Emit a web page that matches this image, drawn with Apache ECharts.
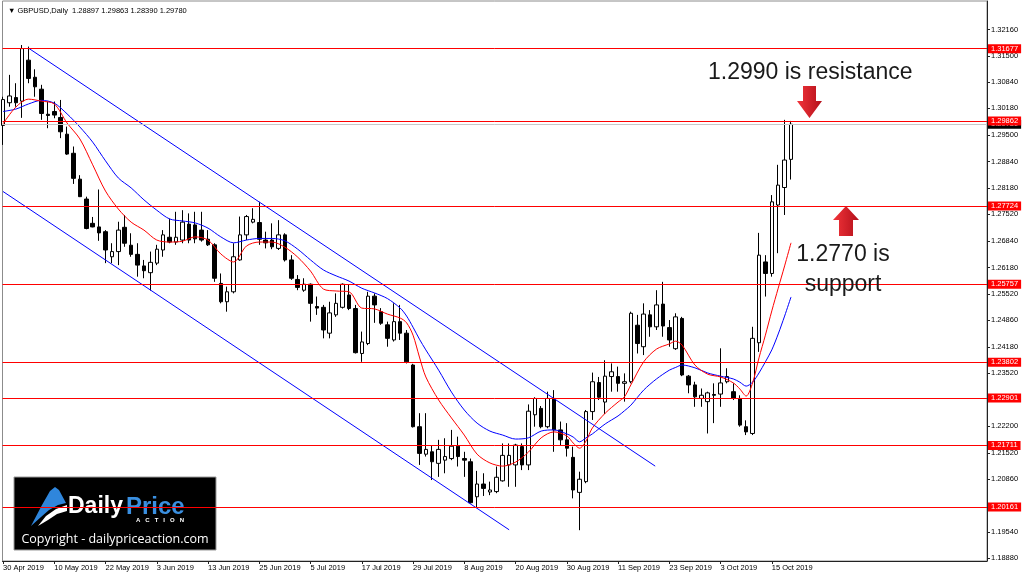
<!DOCTYPE html>
<html>
<head>
<meta charset="utf-8">
<title>GBPUSD Daily</title>
<script src="https://cdn.jsdelivr.net/npm/echarts@6.0.0/dist/echarts.min.js"></script>
<style>
  html, body { margin: 0; padding: 0; background: #fff; }
  #main { width: 1024px; height: 577px; }
</style>
</head>
<body>
<div id="main"></div>
<script>
// bar 0 = 30 Apr 2019, one bar per weekday, bar 123 = 18 Oct 2019
var labelStep = 8;
var dateLabels = ['30 Apr 2019', '10 May 2019', '22 May 2019', '3 Jun 2019', '13 Jun 2019', '25 Jun 2019',
  '5 Jul 2019', '17 Jul 2019', '29 Jul 2019', '8 Aug 2019', '20 Aug 2019', '30 Aug 2019',
  '11 Sep 2019', '23 Sep 2019', '3 Oct 2019', '15 Oct 2019'];

var opens = [1.2975, 1.3032, 1.3045, 1.3036, 1.3139, 1.3096, 1.3066, 1.3003, 1.3010, 1.2995,
  1.2953, 1.2905, 1.2840, 1.2790, 1.2729, 1.2720, 1.2708, 1.2645, 1.2658, 1.2719,
  1.2674, 1.2651, 1.2622, 1.2605, 1.2629, 1.2662, 1.2694, 1.2682, 1.2687, 1.2727,
  1.2725, 1.2712, 1.2689, 1.2675, 1.2578, 1.2532, 1.2557, 1.2637, 1.2700, 1.2732,
  1.2731, 1.2687, 1.2687, 1.2666, 1.2700, 1.2637, 1.2588, 1.2561, 1.2576, 1.2520,
  1.2518, 1.2453, 1.2499, 1.2518, 1.2549, 1.2515, 1.2402, 1.2427, 1.2546, 1.2507,
  1.2474, 1.2436, 1.2482, 1.2453, 1.2373, 1.2218, 1.2149, 1.2155, 1.2126, 1.2134,
  1.2138, 1.2169, 1.2138, 1.2130, 1.2042, 1.2074, 1.2054, 1.2055, 1.2082, 1.2122,
  1.2122, 1.2168, 1.2122, 1.2248, 1.2264, 1.2218, 1.2289, 1.2210, 1.2185, 1.2141,
  1.2053, 1.2080, 1.2256, 1.2329, 1.2280, 1.2344, 1.2344, 1.2327, 1.2331, 1.2473,
  1.2419, 1.2499, 1.2469, 1.2526, 1.2467, 1.2414, 1.2490, 1.2345, 1.2323, 1.2289,
  1.2281, 1.2299, 1.2300, 1.2331, 1.2306, 1.2289, 1.2218, 1.2201, 1.2429, 1.2632,
  1.2603, 1.2775, 1.2819, 1.28897];
var highs = [1.3047, 1.3102, 1.3081, 1.3177, 1.3173, 1.3116, 1.3077, 1.3035, 1.3035, 1.3039,
  1.2972, 1.2922, 1.2850, 1.2796, 1.2745, 1.2814, 1.2712, 1.2679, 1.2733, 1.2750,
  1.2704, 1.2679, 1.2637, 1.2658, 1.2675, 1.2712, 1.2741, 1.2758, 1.2762, 1.2754,
  1.2758, 1.2758, 1.2712, 1.2679, 1.2603, 1.2570, 1.2679, 1.2746, 1.2750, 1.2767,
  1.2783, 1.2708, 1.2729, 1.2737, 1.2704, 1.2649, 1.2599, 1.2591, 1.2578, 1.2545,
  1.2524, 1.2532, 1.2553, 1.2578, 1.2576, 1.2524, 1.2457, 1.2557, 1.2553, 1.2516,
  1.2482, 1.2528, 1.2524, 1.2461, 1.2376, 1.2252, 1.2252, 1.2172, 1.2185, 1.2189,
  1.2210, 1.2193, 1.2155, 1.2138, 1.2107, 1.2101, 1.2080, 1.2118, 1.2176, 1.2176,
  1.2175, 1.2176, 1.2274, 1.2292, 1.2270, 1.2306, 1.2310, 1.2231, 1.2227, 1.2168,
  1.2105, 1.2260, 1.2354, 1.2343, 1.2385, 1.2377, 1.2369, 1.2352, 1.2507, 1.2499,
  1.2528, 1.2511, 1.2561, 1.2582, 1.2486, 1.2503, 1.2494, 1.2348, 1.2331, 1.2314,
  1.2306, 1.2327, 1.2415, 1.2365, 1.2327, 1.2297, 1.2234, 1.2469, 1.2705, 1.2649,
  1.2800, 1.2876, 1.2989, 1.29863];
var lows = [1.2926, 1.3022, 1.3022, 1.2994, 1.3081, 1.3047, 1.2989, 1.2968, 1.2993, 1.2943,
  1.2901, 1.2828, 1.2795, 1.2714, 1.2719, 1.2685, 1.2629, 1.2629, 1.2624, 1.2670,
  1.2645, 1.2595, 1.2591, 1.2560, 1.2624, 1.2645, 1.2679, 1.2675, 1.2679, 1.2679,
  1.2679, 1.2683, 1.2672, 1.2582, 1.2528, 1.2507, 1.2553, 1.2635, 1.2687, 1.2729,
  1.2675, 1.2666, 1.2664, 1.2662, 1.2633, 1.2587, 1.2561, 1.2557, 1.2482, 1.2499,
  1.2440, 1.2440, 1.2494, 1.2515, 1.2511, 1.2402, 1.2381, 1.2423, 1.2479, 1.2474,
  1.2419, 1.2432, 1.2436, 1.2377, 1.2216, 1.2122, 1.2143, 1.2084, 1.2092, 1.2101,
  1.2134, 1.2118, 1.2092, 1.2025, 1.2016, 1.2044, 1.2046, 1.2051, 1.2080, 1.2067,
  1.2067, 1.2109, 1.2109, 1.2218, 1.2214, 1.2214, 1.2155, 1.2172, 1.2143, 1.2038,
  1.1958, 1.2076, 1.2235, 1.2285, 1.2250, 1.2306, 1.2306, 1.2281, 1.2327, 1.2402,
  1.2398, 1.2444, 1.2461, 1.2444, 1.2419, 1.2411, 1.2345, 1.2302, 1.2268, 1.2268,
  1.2201, 1.2227, 1.2268, 1.2327, 1.2285, 1.2218, 1.2197, 1.2197, 1.2406, 1.2545,
  1.2595, 1.2654, 1.2750, 1.28390];
var closes = [1.3040, 1.3049, 1.3032, 1.3168, 1.3093, 1.3072, 1.3005, 1.3000, 1.3001, 1.2959,
  1.2903, 1.2842, 1.2796, 1.2716, 1.2720, 1.2705, 1.2662, 1.2658, 1.2712, 1.2679,
  1.2651, 1.2624, 1.2610, 1.2631, 1.2664, 1.2700, 1.2682, 1.2694, 1.2732, 1.2687,
  1.2690, 1.2687, 1.2675, 1.2591, 1.2532, 1.2557, 1.2645, 1.2700, 1.2746, 1.2739,
  1.2689, 1.2680, 1.2670, 1.2700, 1.2637, 1.2591, 1.2568, 1.2576, 1.2528, 1.2516,
  1.2461, 1.2504, 1.2528, 1.2576, 1.2515, 1.2404, 1.2431, 1.2546, 1.2524, 1.2478,
  1.2440, 1.2482, 1.2453, 1.2381, 1.2218, 1.2151, 1.2161, 1.2130, 1.2161, 1.2143,
  1.2169, 1.2143, 1.2134, 1.2027, 1.2074, 1.2063, 1.2059, 1.2091, 1.2146, 1.2146,
  1.2172, 1.2122, 1.2257, 1.2289, 1.2218, 1.2289, 1.2210, 1.2185, 1.2164, 1.2059,
  1.2086, 1.2256, 1.2331, 1.2292, 1.2345, 1.2356, 1.2327, 1.2331, 1.2503, 1.2427,
  1.2501, 1.2469, 1.2524, 1.2471, 1.2436, 1.2494, 1.2348, 1.2323, 1.2293, 1.2297,
  1.2303, 1.2297, 1.2328, 1.2344, 1.2289, 1.2222, 1.2205, 1.2440, 1.2649, 1.2603,
  1.2783, 1.2825, 1.2888, 1.29780];

// moving averages at these bars
var maBars = [0, 2, 4, 6, 8, 10, 12, 14, 16, 18, 20, 22, 24, 26, 28, 30, 32, 34, 36, 38,
  40, 42, 44, 46, 48, 50, 52, 54, 56, 58, 60, 62, 63, 64, 65, 66, 68, 70, 72, 74,
  76, 78, 80, 82, 84, 86, 88, 89, 90, 91, 92, 94, 96, 97, 98, 100, 102, 104, 105, 106,
  108, 110, 112, 114, 115, 116, 117, 118, 119, 120, 121, 122, 123];
var maRed = [1.2979, 1.3021, 1.3041, 1.3036, 1.3029, 1.2981, 1.2941, 1.2876, 1.2810, 1.2765,
  1.2732, 1.2712, 1.2687, 1.2682, 1.2684, 1.2695, 1.2687, 1.2652, 1.2632, 1.2672,
  1.2682, 1.2682, 1.2669, 1.2644, 1.2609, 1.2564, 1.2559, 1.2557, 1.2516, 1.2514,
  1.2501, 1.2491, 1.2479, 1.2448, 1.2393, 1.2343, 1.2285, 1.2240, 1.2197, 1.2149,
  1.2127, 1.2119, 1.2129, 1.2154, 1.2190, 1.2205, 1.2195, 1.2177, 1.2164, 1.2182,
  1.2215, 1.2252, 1.2280, 1.2293, 1.2323, 1.2381, 1.2413, 1.2426, 1.2433, 1.2423,
  1.2373, 1.2350, 1.2343, 1.2328, 1.2313, 1.2295, 1.2328, 1.2391, 1.2448, 1.2509,
  1.2566, 1.2622, 1.2680];
var maBlue = [1.3010, 1.3016, 1.3029, 1.3038, 1.3031, 1.3004, 1.2971, 1.2933, 1.2886, 1.2843,
  1.2818, 1.2788, 1.2762, 1.2740, 1.2735, 1.2730, 1.2717, 1.2695, 1.2680, 1.2687,
  1.2691, 1.2691, 1.2685, 1.2664, 1.2637, 1.2612, 1.2597, 1.2584, 1.2566, 1.2554,
  1.2540, 1.2516, 1.2496, 1.2468, 1.2438, 1.2411, 1.2360, 1.2305, 1.2260, 1.2227,
  1.2207, 1.2197, 1.2187, 1.2190, 1.2207, 1.2210, 1.2200, 1.2192, 1.2180, 1.2190,
  1.2200, 1.2225, 1.2245, 1.2258, 1.2272, 1.2310, 1.2338, 1.2360, 1.2367, 1.2373,
  1.2366, 1.2353, 1.2345, 1.2338, 1.2330, 1.2320, 1.2330, 1.2353, 1.2381, 1.2411,
  1.2451, 1.2496, 1.2544];

// trend channel: [bar, price] end points
var channelUpper = [[4, 1.3169], [101.8, 1.2119]];
var channelLower = [[0, 1.2809], [79, 1.1959]];

var levels = [1.31677, 1.29862, 1.27724, 1.25757, 1.23802, 1.22901, 1.21711, 1.20161];
var bidPrice = 1.29780;
var priceTicks = [1.32160, 1.31500, 1.30840, 1.30180, 1.29500, 1.28840, 1.28180, 1.27520,
  1.26840, 1.26180, 1.25520, 1.24860, 1.24180, 1.23520, 1.22860, 1.22200, 1.21520,
  1.20860, 1.20200, 1.19540, 1.18880];

var FONT = "'Liberation Sans', Arial, sans-serif";

var candles = [];
for (var i = 0; i < opens.length; i++) {
  candles.push([i, opens[i], closes[i], lows[i], highs[i]]);
}
var tickBars = dateLabels.map(function (d, k) { return k * labelStep; });
function pairs(xs, ys) {
  return xs.map(function (x, k) { return [x, ys[k]]; });
}
function priceLabel(bg) {
  return {
    show: true, position: 'end', distance: 1,
    color: '#fff', backgroundColor: bg, padding: [1, 3, 0, 3],
    fontSize: 7.5, lineHeight: 8, fontFamily: FONT,
    formatter: function (p) { return Number(p.value).toFixed(5); }
  };
}

var myChart = echarts.init(document.getElementById('main'));
var option = {
  animation: false,
  backgroundColor: '#ffffff',
  title: {
    text: '\u25BC GBPUSD,Daily  1.28897 1.29863 1.28390 1.29780',
    left: 3,
    top: 2,
    textStyle: { fontSize: 7.5, fontWeight: 'normal', color: '#000', fontFamily: FONT }
  },
  grid: {
    left: 2, right: 37, top: 1, bottom: 16,
    show: true, borderColor: '#8c8c8c', borderWidth: 1, backgroundColor: '#fff'
  },
  xAxis: {
    type: 'value',
    min: -0.078,
    max: 153.59,
    splitLine: { show: false },
    axisLine: { show: true, onZero: false, lineStyle: { color: '#222', width: 1 } },
    axisTick: { show: true, customValues: tickBars, length: 3, lineStyle: { color: '#222' } },
    axisLabel: {
      customValues: tickBars,
      align: 'left',
      margin: 3,
      fontSize: 7.5,
      color: '#000',
      fontFamily: FONT,
      formatter: function (v) { return dateLabels[Math.round(v / labelStep)]; }
    }
  },
  yAxis: {
    type: 'value',
    position: 'right',
    min: 1.18806,
    max: 1.32876,
    splitLine: { show: false },
    axisLine: { show: true, onZero: false, lineStyle: { color: '#222', width: 1 } },
    axisTick: { show: true, customValues: priceTicks, length: 3, lineStyle: { color: '#222' } },
    axisLabel: {
      customValues: priceTicks,
      margin: 4,
      fontSize: 7.5,
      color: '#000',
      fontFamily: FONT,
      formatter: function (v) { return v.toFixed(5); }
    }
  },
  series: [
    {
      // current bid line
      type: 'line',
      z: 1,
      data: [[0, bidPrice]],
      showSymbol: false,
      lineStyle: { opacity: 0 },
      silent: true,
      markLine: {
        silent: true,
        precision: 5,
        symbol: ['none', 'none'],
        lineStyle: { color: '#c8c8c8', width: 1, type: 'solid' },
        label: priceLabel('#000'),
        data: [{ yAxis: bidPrice }]
      }
    },
    {
      type: 'line',
      data: pairs(maBars, maBlue),
      smooth: 0.3,
      showSymbol: false,
      silent: true,
      lineStyle: { color: '#0000ff', width: 1 }
    },
    {
      type: 'line',
      data: pairs(maBars, maRed),
      smooth: 0.3,
      showSymbol: false,
      silent: true,
      lineStyle: { color: '#ff0000', width: 1 }
    },
    {
      type: 'line',
      data: channelUpper,
      showSymbol: false,
      silent: true,
      lineStyle: { color: '#0000ff', width: 1 }
    },
    {
      type: 'line',
      data: channelLower,
      showSymbol: false,
      silent: true,
      lineStyle: { color: '#0000ff', width: 1 }
    },
    {
      type: 'candlestick',
      data: candles,
      encode: { x: 0, y: [1, 2, 3, 4] },
      barWidth: 4,
      silent: true,
      itemStyle: {
        color: '#ffffff', color0: '#000000',
        borderColor: '#000000', borderColor0: '#000000', borderColorDoji: '#000000',
        borderWidth: 1
      },
      markLine: {
        silent: true,
        precision: 5,
        symbol: ['none', 'none'],
        lineStyle: { color: '#ff0000', width: 1, type: 'solid' },
        label: priceLabel('#ff0000'),
        data: levels.map(function (v) { return { yAxis: v }; })
      }
    }
  ],
  graphic: [
    {
      type: 'text', z: 100,
      style: { x: 708, y: 73, text: '1.2990 is resistance', font: '23px ' + FONT, fill: '#1a1a1a', verticalAlign: 'middle' }
    },
    {
      type: 'text', z: 100,
      style: { x: 843, y: 255, text: '1.2770 is', font: '23px ' + FONT, fill: '#1a1a1a', align: 'center', verticalAlign: 'middle' }
    },
    {
      type: 'text', z: 100,
      style: { x: 843, y: 285, text: 'support', font: '23px ' + FONT, fill: '#1a1a1a', align: 'center', verticalAlign: 'middle' }
    },
    {
      // down arrow above resistance
      type: 'polygon', z: 100,
      shape: { points: [[803, 86], [816, 86], [816, 101], [822, 101], [809.5, 118], [797, 101], [803, 101]] },
      style: {
        fill: { type: 'linear', x: 0, y: 0, x2: 1, y2: 0, colorStops: [{ offset: 0, color: '#f2343a' }, { offset: 1, color: '#b3101a' }] }
      }
    },
    {
      // up arrow under support
      type: 'polygon', z: 100,
      shape: { points: [[846, 206], [859, 220], [853, 220], [853, 236], [839, 236], [839, 220], [833, 220]] },
      style: {
        fill: { type: 'linear', x: 0, y: 0, x2: 1, y2: 0, colorStops: [{ offset: 0, color: '#f2343a' }, { offset: 1, color: '#b3101a' }] }
      }
    },
    {
      // logo box
      type: 'group', z: 100,
      children: [
        { type: 'rect', shape: { x: 14, y: 477, width: 202, height: 73 }, style: { fill: '#000', stroke: '#9a9a9a', lineWidth: 1 } },
        { type: 'polygon', shape: { points: [[31, 526], [42, 505], [50, 491], [55, 487], [59, 490], [66, 503], [58, 505], [49, 510], [41, 517]] }, style: { fill: '#2f86dc' } },
        { type: 'polygon', shape: { points: [[38, 526], [46, 516], [56, 509], [67, 505], [67, 511], [57, 514], [48, 520]] }, style: { fill: '#ffffff' } },
        { type: 'text', style: { x: 68, y: 507, text: 'Daily', font: 'bold 23px ' + FONT, fill: '#ffffff', verticalAlign: 'middle' } },
        { type: 'text', style: { x: 126, y: 507, text: 'Price', font: 'bold 24px ' + FONT, fill: '#3a8fe0', verticalAlign: 'middle' } },
        { type: 'text', style: { x: 160, y: 520, text: 'A   C   T   I   O   N', font: 'bold 6px ' + FONT, fill: '#ffffff', align: 'center', verticalAlign: 'middle' } },
        { type: 'text', style: { x: 115, y: 539, text: 'Copyright - dailypriceaction.com', font: "12.5px 'Open Sans', " + FONT, fill: '#ffffff', align: 'center', verticalAlign: 'middle' } }
      ]
    }
  ]
};
myChart.setOption(option);
</script>
</body>
</html>
